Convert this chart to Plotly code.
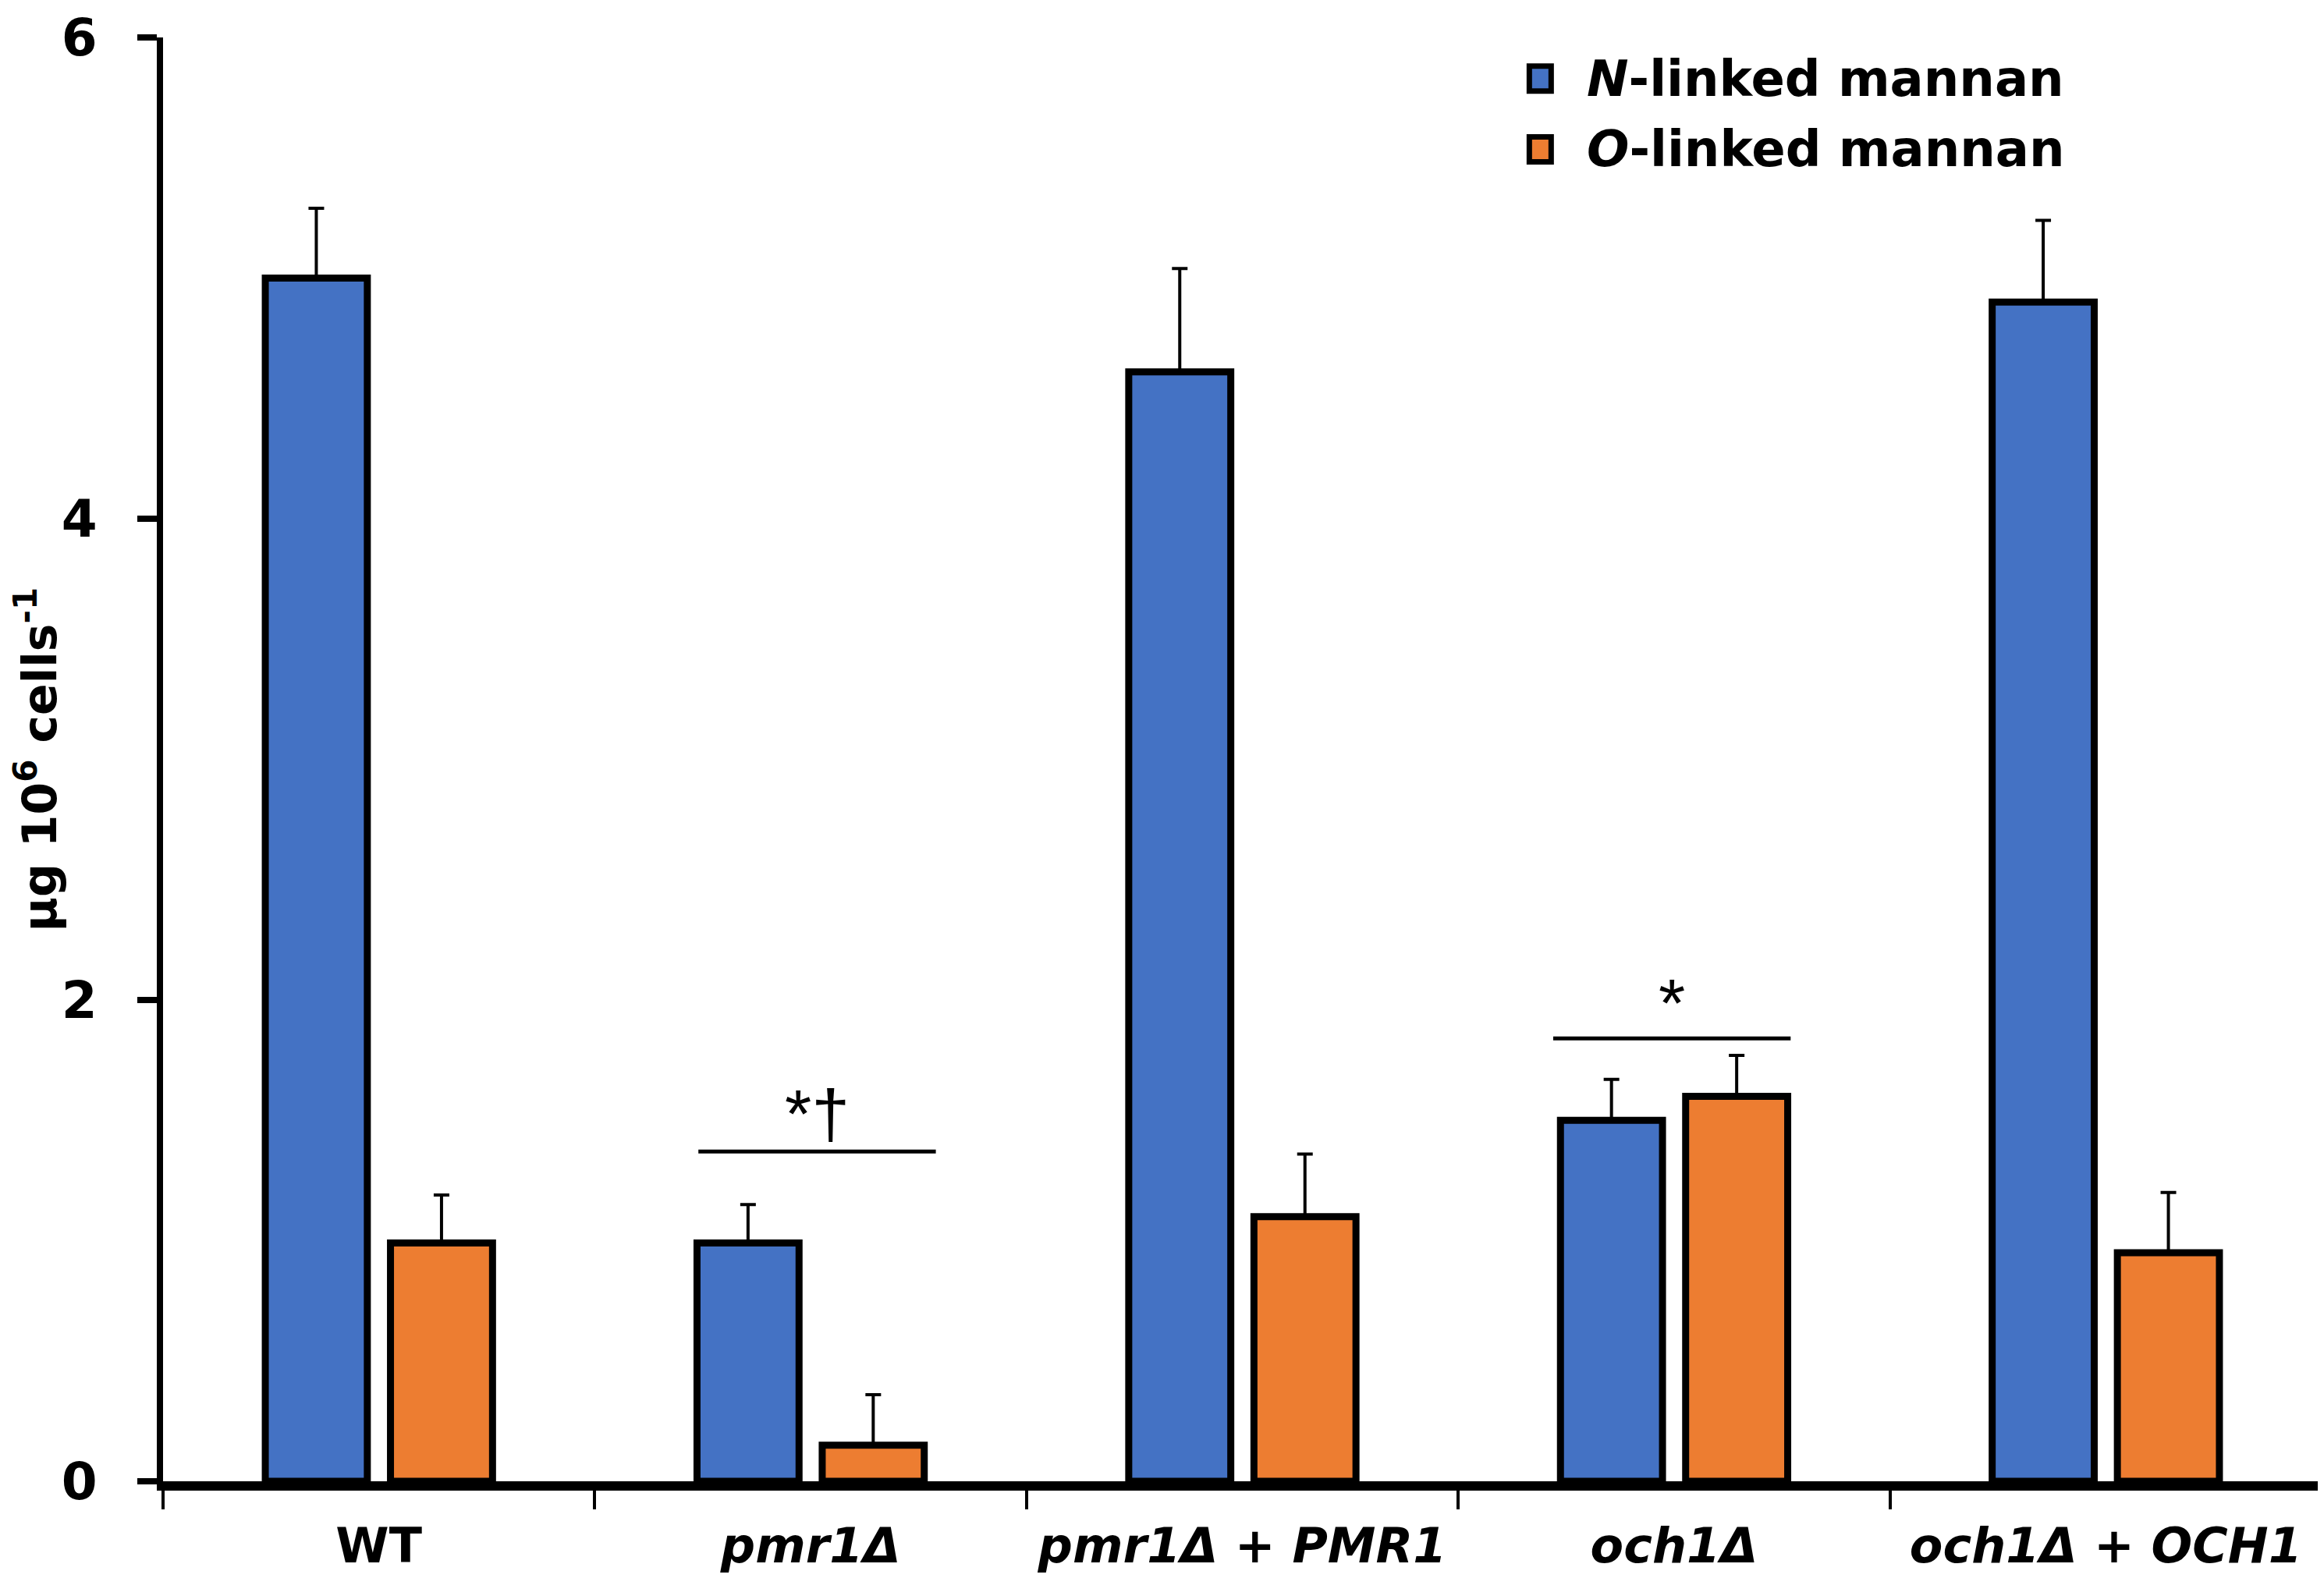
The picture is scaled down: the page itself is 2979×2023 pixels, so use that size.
import plotly.graph_objects as go

# ---- data ----
strains = ["WT", "pmr1Δ", "pmr1Δ + PMR1", "och1Δ", "och1Δ + OCH1"]
strain_labels = ["WT", "<i>pmr1Δ</i>", "<i>pmr1Δ + PMR1</i>", "<i>och1Δ</i>", "<i>och1Δ + OCH1</i>"]
n_linked = [5.00, 0.99, 4.61, 1.50, 4.90]
n_linked_err = [0.29, 0.16, 0.43, 0.17, 0.34]
o_linked = [0.99, 0.15, 1.10, 1.60, 0.95]
o_linked_err = [0.20, 0.21, 0.26, 0.17, 0.25]

series_names = ["<i>N</i>-linked mannan", "<i>O</i>-linked mannan"]

# significance marks: (label, left x, right x, line y, text y)
sig_marks = [
    ("*†", 0.74, 1.29, 1.37, 1.53),
    ("*", 2.72, 3.27, 1.84, 1.99),
]

BLUE = "#4472C4"
ORANGE = "#ED7D31"
FONT = "DejaVu Sans, Arial, sans-serif"
SIG_FONT = "Liberation Sans, Arial, sans-serif"

fig = go.Figure()

for vals, errs, col in [(n_linked, n_linked_err, BLUE),
                        (o_linked, o_linked_err, ORANGE)]:
    fig.add_trace(go.Bar(
        x=strains, y=vals, showlegend=False,
        marker=dict(color=col, line=dict(color="black", width=9)),
        error_y=dict(type="data", array=errs, arrayminus=[0] * len(errs),
                     symmetric=False, color="black", thickness=4, width=10),
    ))

for txt, x0, x1, ly, ty in sig_marks:
    fig.add_shape(type="line", x0=x0, x1=x1, y0=ly, y1=ly, xref="x", yref="y",
                  line=dict(color="black", width=5))
    fig.add_annotation(x=(x0 + x1) / 2, y=ty, text=txt, showarrow=False,
                       font=dict(family=SIG_FONT, size=88, color="black"))

# legend drawn by hand so the swatches can be as big as in the original
legend_x = 0.638
legend_y = [0.9715, 0.9225]
for name, col, ly in zip(series_names, [BLUE, ORANGE], legend_y):
    fig.add_shape(type="rect", xref="paper", yref="paper",
                  xsizemode="pixel", ysizemode="pixel",
                  xanchor=legend_x, yanchor=ly, x0=-14, x1=14, y0=-16, y1=16,
                  fillcolor=col, line=dict(color="black", width=7))
    fig.add_annotation(xref="paper", yref="paper", x=legend_x + 0.021, y=ly,
                       xanchor="left", yanchor="middle", text=name, showarrow=False,
                       font=dict(family=FONT, size=64, color="black", weight="bold"))

fig.update_layout(
    width=2979, height=2023,
    margin=dict(l=201, r=11, t=40, b=132),
    plot_bgcolor="white", paper_bgcolor="white",
    barmode="group", bargap=0.42, bargroupgap=0.185,
    font=dict(family=FONT, color="black"),
    showlegend=False,
)

fig.update_xaxes(
    range=[-0.5, 4.5], tickmode="array", tickvals=strains, ticktext=strain_labels,
    tickangle=0,
    showline=True, linecolor="black", linewidth=12, showgrid=False, zeroline=False,
    ticks="outside", tickson="boundaries", ticklen=24, tickwidth=4, tickcolor="black",
    ticklabelstandoff=18, automargin=False,
    tickfont=dict(family=FONT, size=62, color="black", weight="bold"),
)

fig.update_yaxes(
    range=[0, 6], tickvals=[0, 2, 4, 6],
    showline=True, linecolor="black", linewidth=8, showgrid=False, zeroline=False,
    ticks="outside", ticklen=25, tickwidth=8, tickcolor="black",
    ticklabelstandoff=38, automargin=False,
    tickfont=dict(family=FONT, size=66, color="black", weight="bold"),
    title=dict(text="µg 10<sup>6</sup> cells<sup>-1</sup>", standoff=6,
               font=dict(family=FONT, size=60, color="black", weight="bold")),
)

fig.write_html("out.html")
